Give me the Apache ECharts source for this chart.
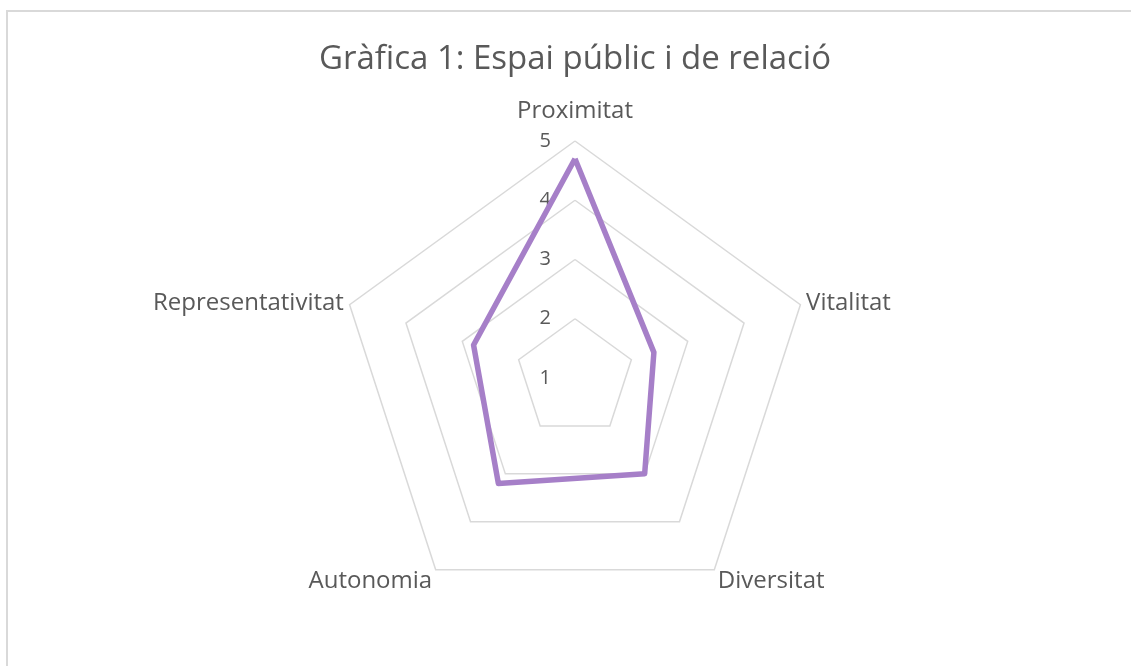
<!DOCTYPE html>
<html>
<head>
<meta charset="utf-8">
<script src="https://cdn.jsdelivr.net/npm/echarts@6/dist/echarts.min.js"></script>
<style>
html,body{margin:0;padding:0;background:#fff;}
#c{width:1131px;height:666px;position:absolute;left:0;top:0;}
#frame{position:absolute;left:6px;top:10px;right:0;bottom:0;border-top:2px solid #d9d9d9;border-left:2px solid #d9d9d9;pointer-events:none;}
</style>
</head>
<body>
<div id="c"></div>
<div id="frame"></div>
<script>
// Data (indicators listed counter-clockwise starting at the top)
const indicators = ['Proximitat', 'Representativitat', 'Autonomia', 'Diversitat', 'Vitalitat'];
const values = [4.7, 2.8, 3.2, 3.0, 2.4];
const axisMin = 1;
const axisMax = 5;
const titleText = 'Gràfica 1: Espai públic i de relació';

const FONT = "'Open Sans', 'Noto Sans', sans-serif";
const TXT = '#595959';

const chart = echarts.init(document.getElementById('c'), null, {renderer: 'canvas'});
chart.setOption({
  animation: false,
  backgroundColor: '#ffffff',
  title: {
    text: titleText,
    left: 575,
    textAlign: 'center',
    top: 43,
    padding: 0,
    textStyle: {color: TXT, fontSize: 33, fontWeight: 'normal', fontFamily: FONT}
  },
  radar: {
    center: [575, 378],
    radius: 237,
    splitNumber: 4,
    shape: 'polygon',
    nameGap: 6,
    axisName: {
      color: TXT,
      fontSize: 24,
      fontFamily: FONT,
      formatter: function (name) {
        if (name === indicators[0]) return '{t|' + name + '}';
        if (name === indicators[2] || name === indicators[3]) return '{b|' + name + '}';
        return name;
      },
      rich: {
        t: {color: TXT, fontSize: 24, fontFamily: FONT, padding: [0, 0, 12, 0]},
        b: {color: TXT, fontSize: 24, fontFamily: FONT, padding: [14, 0, 0, 0]}
      }
    },
    axisLine: {show: false},
    axisTick: {show: false},
    splitArea: {show: false},
    splitLine: {lineStyle: {color: '#d9d9d9', width: 1.5}},
    indicator: indicators.map(function (n, i) {
      const o = {name: n, min: axisMin, max: axisMax};
      if (i === 0) {
        o.axisLabel = {show: true, color: TXT, fontSize: 20, fontFamily: FONT, margin: 24};
      }
      return o;
    })
  },
  series: [{
    type: 'radar',
    symbol: 'none',
    lineStyle: {color: '#A67FC8', width: 5.5},
    itemStyle: {color: '#A67FC8'},
    data: [{value: values, name: 'Espai públic i de relació'}]
  }]
});
</script>
</body>
</html>
